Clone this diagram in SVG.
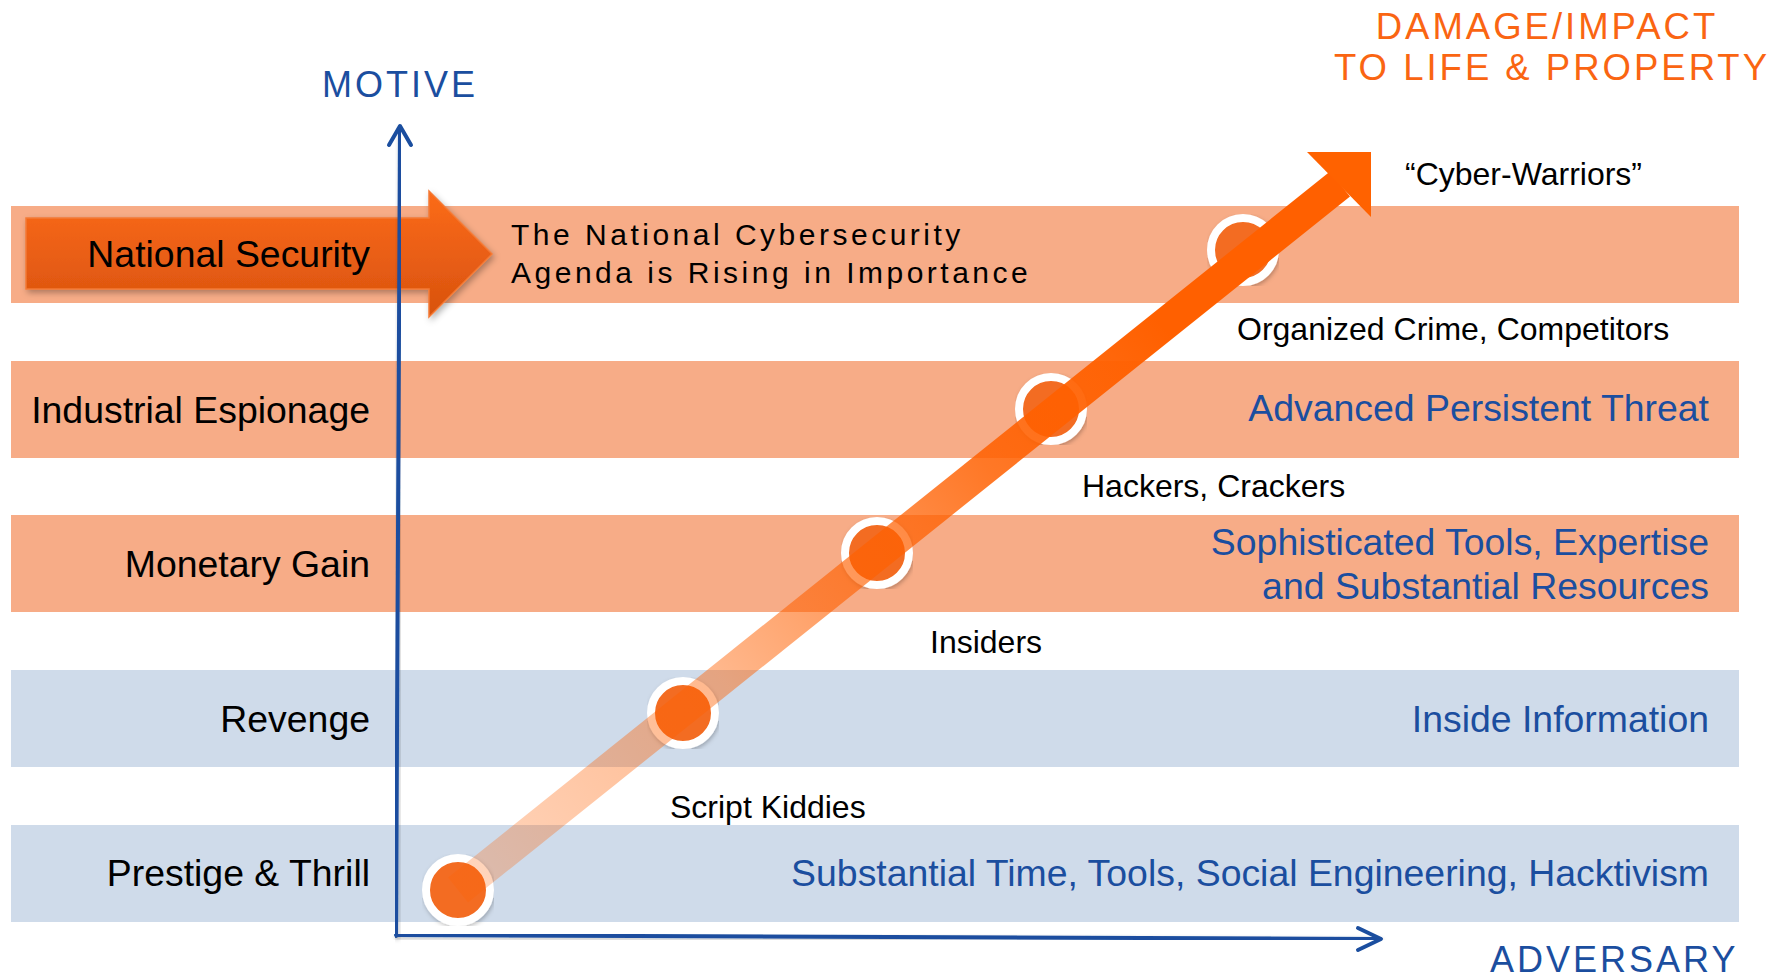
<svg xmlns="http://www.w3.org/2000/svg" width="1783" height="979" viewBox="0 0 1783 979">
<defs>
<style>
text{font-family:"Liberation Sans",Arial,sans-serif}
.band-o{fill:#F7AC87}
.band-b{fill:#CFDBEA}
.lbl{font-size:37.4px;fill:#000;text-anchor:end}
.blue{font-size:37.4px;fill:#1B4E9F;text-anchor:end}
.who{font-size:32px;fill:#000}
.axis{stroke:#1B4E9F;stroke-width:4;fill:none;stroke-linecap:round;stroke-linejoin:round}
.axt{font-size:36px;fill:#1B4E9F;letter-spacing:3px}
.dmg{font-size:36.5px;fill:#FA6512;letter-spacing:3px;text-anchor:middle}
.dot{fill:#F36C21;stroke:#fff;stroke-width:8}
</style>
<linearGradient id="nsg" x1="0" y1="0" x2="0" y2="1">
<stop offset="0" stop-color="#FC6B1A"/>
<stop offset="1" stop-color="#D8520E"/>
</linearGradient>
<linearGradient id="shaft" gradientUnits="userSpaceOnUse" x1="458" y1="890" x2="1338" y2="184">
<stop offset="0" stop-color="#FF6000" stop-opacity="0.25"/>
<stop offset="0.3" stop-color="#FF6000" stop-opacity="0.45"/>
<stop offset="0.6" stop-color="#FF6000" stop-opacity="0.85"/>
<stop offset="0.8" stop-color="#FF6000" stop-opacity="1"/>
<stop offset="1" stop-color="#FF6000" stop-opacity="1"/>
</linearGradient>
<filter id="sh" x="-10%" y="-20%" width="130%" height="150%">
<feDropShadow dx="2" dy="3" stdDeviation="3" flood-color="#000" flood-opacity="0.3"/>
</filter>
<filter id="sh2" x="-5%" y="-5%" width="110%" height="110%">
<feDropShadow dx="1" dy="2" stdDeviation="2" flood-color="#000" flood-opacity="0.25"/>
</filter>
</defs>
<rect width="1783" height="979" fill="#fff"/>

<g id="bands">
<rect class="band-o" x="11" y="206" width="1728" height="97"/>
<rect class="band-o" x="11" y="361" width="1728" height="97"/>
<rect class="band-o" x="11" y="515" width="1728" height="97"/>
<rect class="band-b" x="11" y="670" width="1728" height="97"/>
<rect class="band-b" x="11" y="825" width="1728" height="97"/>
</g>

<g id="national-security">
<polygon points="26,218 429,218 429,191 492,254 429,317 429,289 26,289" fill="url(#nsg)" stroke="#F47A36" stroke-width="1.5" filter="url(#sh)"/>
<text class="lbl" x="370" y="267">National Security</text>
</g>
<g id="agenda">
<text x="511" y="245" style="font-size:30px;letter-spacing:3.5px">The National Cybersecurity</text>
<text x="511" y="283" style="font-size:30px;letter-spacing:3.5px">Agenda is Rising in Importance</text>
</g>

<g id="connectors">
<polyline class="axis" points="396,936 400,127" filter="url(#sh2)"/>
<polyline class="axis" points="389,145 400,126 411,145"/>
<polyline class="axis" points="396,935 1380,939" filter="url(#sh2)"/>
<polyline class="axis" points="1358,928 1381,939 1358,950"/>
</g>

<g id="axis-labels">
<text class="axt" x="322" y="97">MOTIVE</text>
<text class="axt" x="1490" y="972">ADVERSARY</text>
<text class="dmg" x="1547" y="39">DAMAGE/IMPACT</text>
<text class="dmg" x="1552" y="80">TO LIFE &amp; PROPERTY</text>
</g>

<g id="level-labels">
<text class="lbl" x="370" y="423">Industrial Espionage</text>
<text class="lbl" x="370" y="577">Monetary Gain</text>
<text class="lbl" x="370" y="732">Revenge</text>
<text class="lbl" x="370" y="886">Prestige &amp; Thrill</text>
</g>

<g id="capability-labels">
<text class="blue" x="1709" y="421">Advanced Persistent Threat</text>
<text class="blue" x="1709" y="555">Sophisticated Tools, Expertise</text>
<text class="blue" x="1709" y="599">and Substantial Resources</text>
<text class="blue" x="1709" y="732">Inside Information</text>
<text class="blue" x="1709" y="886">Substantial Time, Tools, Social Engineering, Hacktivism</text>
</g>

<g id="node-script-kiddies"><circle class="dot" cx="458" cy="890" r="32" filter="url(#sh2)"/></g>
<g id="node-insiders"><circle class="dot" cx="683" cy="713" r="32" filter="url(#sh2)"/></g>
<g id="node-hackers"><circle class="dot" cx="877" cy="553" r="32" filter="url(#sh2)"/></g>
<g id="node-organized-crime"><circle class="dot" cx="1051" cy="409" r="32" filter="url(#sh2)"/></g>
<g id="node-cyber-warriors"><circle class="dot" cx="1243" cy="250" r="32" filter="url(#sh2)"/></g>

<g id="impact-arrow">
<line x1="458" y1="890" x2="1340" y2="184" stroke="url(#shaft)" stroke-width="32"/>
<polygon points="1307,152 1371,152 1371,217" fill="#FF6200"/>
</g>

<g id="adversary-labels">
<text class="who" x="1405" y="185">“Cyber-Warriors”</text>
<text class="who" x="1237" y="340">Organized Crime, Competitors</text>
<text class="who" x="1082" y="497">Hackers, Crackers</text>
<text class="who" x="930" y="653">Insiders</text>
<text class="who" x="670" y="818">Script Kiddies</text>
</g>
</svg>
